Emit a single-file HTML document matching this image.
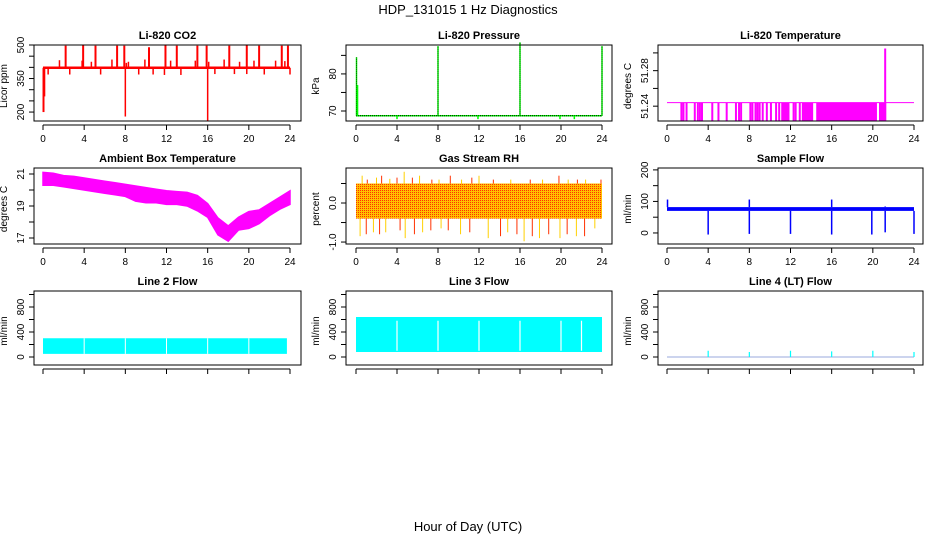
<!DOCTYPE html>
<html><head><meta charset="utf-8"><style>
html,body{margin:0;padding:0;background:#fff;}
svg{display:block;font-family:"Liberation Sans",sans-serif;}
</style></head><body>
<svg id="chart" width="936" height="540" viewBox="0 0 936 540" xmlns="http://www.w3.org/2000/svg">
<defs>
<pattern id="rhpat" width="2" height="2" patternUnits="userSpaceOnUse">
<rect width="2" height="2" fill="#ffc000"/><rect width="1" height="1" fill="#ff3000"/>
</pattern>
</defs>
<text x="468" y="14" text-anchor="middle" font-size="13">HDP_131015  1 Hz Diagnostics</text>
<text x="468" y="531" text-anchor="middle" font-size="13">Hour of Day (UTC)</text>
</svg>
<script>
// ---- data ----
var xTicks = [0,4,8,12,16,20,24];
// CO2
var co2Base = 398;
var co2UpHours = [2.2,3.9,5.1,7.2,7.9,10.3,11.9,13.0,15.0,15.9,18.1,19.8,21.0,23.2,23.8];
var co2UpVals  = [497,499,497,497,497,490,499,497,497,497,497,499,497,497,497];
var co2SmallHours = [1.6,3.8,4.7,6.7,8.1,8.3,9.9,12.4,14.8,16.1,17.6,19.1,20.5,22.6,23.5];
var co2SmallVals  = [432,430,425,435,420,425,435,430,430,425,435,425,430,430,428];
var co2DipHours = [0.5,2.6,5.6,9.3,10.7,11.8,13.4,16.7,18.6,19.8,21.5,24.0];
var co2DipVals  = [368,368,368,368,368,366,366,370,370,370,368,368];
var co2DownHours = [0.05,0.15,8.0,16.0];
var co2DownVals  = [200,270,180,160];
// Pressure
var presBase = 68.7;
var presSpikeHours = [0.05,8.0,16.0,24.0];
var presSpikeVals  = [84.5,87.5,88.5,87.5];
var presSmallHours = [4.0,11.9,19.9,21.3,0.15];
var presSmallVals  = [67.8,67.8,67.8,67.8,77];
// Li-820 temperature
var tempBase = 51.244;
var tempDipHours = [1.4,1.6,1.9,2.7,3.0,3.2,3.4,4.4,5.0,5.8,6.7,7.0,7.2,8.1,8.3,8.6,8.8,9.0,9.3,9.7,10.1,10.6,10.9,12.3,12.5,12.9];
var tempDenseStart = [11.1,13.1,14.5,20.6];
var tempDenseEnd   = [11.9,14.2,20.4,21.3];
var tempSpikeHour = 21.2;
var tempSpikeVal = 51.305;
var tempFloor = 51.2233;
// Ambient
var ambHours = [0,1,2,3,4,5,6,7,8,9,10,11,12,13,14,15,16,17,18,19,20,21,22,23,24];
var ambHi = [21.1,21.05,20.9,20.85,20.75,20.65,20.55,20.45,20.35,20.25,20.15,20.05,19.95,19.9,19.85,19.65,19.15,18.25,17.75,18.3,18.65,18.75,19.15,19.55,19.95];
var ambLo = [20.3,20.3,20.2,20.1,20.0,19.9,19.8,19.7,19.6,19.3,19.2,19.2,19.1,19.1,19.0,18.7,18.3,17.2,16.8,17.5,17.6,17.9,18.4,18.8,19.1];
// RH
var rhLo = -0.4, rhHi = 0.5;
var rhUpHours = [0.6,1.1,2.0,2.5,3.3,4.0,4.7,5.5,6.2,7.4,8.1,9.2,10.3,11.3,12.0,13.4,15.1,17.0,18.2,19.8,20.7,21.6,22.4,23.9];
var rhUpVals  = [0.7,0.6,0.65,0.7,0.62,0.65,0.8,0.65,0.7,0.6,0.6,0.7,0.6,0.65,0.7,0.6,0.6,0.6,0.6,0.7,0.6,0.6,0.6,0.6];
var rhDnHours = [0.4,1.0,1.7,2.3,2.9,4.3,4.8,5.7,6.5,7.3,8.3,9.0,10.2,11.1,12.9,14.1,14.8,15.7,16.4,17.2,17.9,18.8,19.9,20.6,21.5,22.3,23.3];
var rhDnVals  = [-0.85,-0.8,-0.75,-0.8,-0.75,-0.7,-0.9,-0.8,-0.75,-0.7,-0.65,-0.7,-0.8,-0.75,-0.9,-0.85,-0.75,-0.8,-0.98,-0.85,-0.9,-0.8,-0.9,-0.8,-0.85,-0.85,-0.65];
// Sample flow
var sfLo = 70, sfHi = 82;
var sfDownHours = [4.0,8.0,12.0,16.0,19.9,21.2,24.0];
var sfDownVals  = [-5,-3,-3,-5,-5,2,-3];
var sfUpHours = [0.05,8.0,16.0,21.2];
var sfUpVals  = [106,106,106,84];
// Line flows
var l2Lo = 50, l2Hi = 300;
var l2Gaps = [4,8,12,16,20];
var l3Lo = 80, l3Hi = 640;
var l3Gaps = [4,8,12,16,20,22];
var l4SpikeHours = [4.0,8.0,12.0,16.0,20.0,24.0];
var l4SpikeVals  = [100,80,100,90,100,80];

// ---- layout ----
var svg = document.getElementById('chart');
var NS = 'http://www.w3.org/2000/svg';
var cols = [{l:34,r:301,x0:43,x24:290},{l:346,r:612,x0:356,x24:602},{l:658,r:923,x0:667,x24:914}];
var rows = [{t:45,b:121},{t:168,b:244},{t:291,b:365}];
function mk(tag, attrs, nm, parent){
  var e = document.createElementNS(NS, tag);
  for (var k in attrs) e.setAttribute(k, attrs[k]);
  
  
  (parent||svg).appendChild(e);
  return e;
}
function panel(ci, ri, title, ylab, ymin, ymax, ticks, labels, showX){
  var c = cols[ci], r = rows[ri];
  var p = {c:c, r:r};
  p.x = function(h){ return c.x0 + (c.x24-c.x0)*h/24; };
  p.y = function(v){ return r.b - (v-ymin)/(ymax-ymin)*(r.b-r.t); };
  p.g = mk('g', {}, title.toLowerCase().replace(/[^a-z0-9]+/g,'-')+'-panel');
  p.plot = mk('g', {}, 'plot-area', p.g);
  mk('rect', {x:c.l, y:r.t, width:c.r-c.l, height:r.b-r.t, fill:'none', stroke:'#000', 'stroke-width':1}, 'plot-frame', p.g);
  mk('text', {x:(c.l+c.r)/2, y:r.t-6, 'text-anchor':'middle', 'font-size':11, 'font-weight':'bold'}, 'panel-title', p.g).textContent = title;
  var ya = p.y(ticks[0]), yb = p.y(ticks[ticks.length-1]);
  mk('line', {x1:c.l, x2:c.l, y1:ya, y2:yb, stroke:'#000'}, 'y-axis-line', p.g);
  ticks.forEach(function(t){
    var yy = p.y(t);
    mk('line', {x1:c.l-5, x2:c.l, y1:yy, y2:yy, stroke:'#000'}, 'y-tick', p.g);
  });
  labels.forEach(function(lb){
    var yy = p.y(parseFloat(lb));
    mk('text', {x:c.l-10, y:yy, 'text-anchor':'middle', 'font-size':10, transform:'rotate(-90 '+(c.l-10)+' '+yy+')'}, 'y-tick-label', p.g).textContent = lb;
  });
  var ym = (r.t+r.b)/2;
  mk('text', {x:c.l-27, y:ym+3, 'text-anchor':'middle', 'font-size':10, transform:'rotate(-90 '+(c.l-27)+' '+(ym+3)+')'}, 'y-axis-title', p.g).textContent = ylab;
  mk('line', {x1:p.x(0), x2:p.x(24), y1:r.b+4, y2:r.b+4, stroke:'#000'}, 'x-axis-line', p.g);
  xTicks.forEach(function(h){
    mk('line', {x1:p.x(h), x2:p.x(h), y1:r.b+4, y2:r.b+9, stroke:'#000'}, 'x-tick', p.g);
    if (showX) mk('text', {x:p.x(h), y:r.b+21, 'text-anchor':'middle', 'font-size':10}, 'x-tick-label', p.g).textContent = h;
  });
  return p;
}
function vline(p, h, v1, v2, col, w, nm){
  return mk('line', {x1:p.x(h), x2:p.x(h), y1:p.y(v1), y2:p.y(v2), stroke:col, 'stroke-width':w}, nm, p.plot);
}
function hline(p, h1, h2, v, col, w, nm){
  return mk('line', {x1:p.x(h1), x2:p.x(h2), y1:p.y(v), y2:p.y(v), stroke:col, 'stroke-width':w}, nm, p.plot);
}
function band(p, h1, h2, lo, hi, fill, nm){
  return mk('rect', {x:p.x(h1), y:p.y(hi), width:p.x(h2)-p.x(h1), height:p.y(lo)-p.y(hi), fill:fill}, nm, p.plot);
}

// CO2
var p1 = panel(0,0,'Li-820 CO2','Licor ppm',160,500,[200,250,300,350,400,450,500],['200','350','500'],true);
hline(p1,0,24,co2Base,'#ff0000',2.5,'co2-line');
co2UpHours.forEach(function(h,i){ vline(p1,h,co2Base,co2UpVals[i],'#ff0000',2,'co2-spike-up'); });
co2SmallHours.forEach(function(h,i){ vline(p1,h,co2Base,co2SmallVals[i],'#ff0000',1.5,'co2-small-spike'); });
co2DipHours.forEach(function(h,i){ vline(p1,h,co2Base,co2DipVals[i],'#ff0000',1.5,'co2-dip'); });
co2DownHours.forEach(function(h,i){ vline(p1,h,co2Base,co2DownVals[i],'#ff0000',i==0?2:1.5,'co2-spike-down'); });

// Pressure
var p2 = panel(1,0,'Li-820 Pressure','kPa',67.3,87.8,[70,75,80,85],['70','80'],true);
hline(p2,0,24,presBase,'#00ff00',1.5,'pressure-line');
hline(p2,0,24,presBase,'#000',1,'pressure-dotted').setAttribute('stroke-dasharray','1 1');
presSpikeHours.forEach(function(h,i){ vline(p2,h,presBase,presSpikeVals[i],'#00ff00',1.5,'pressure-spike'); });
presSpikeHours.forEach(function(h,i){ vline(p2,h,presBase,presSpikeVals[i],'#000',0.7,'pressure-spike-dots').setAttribute('stroke-dasharray','1 1'); });
presSmallHours.forEach(function(h,i){ vline(p2,h,presBase,presSmallVals[i],'#00ff00',1.5,'pressure-small'); });

// Li-820 temperature
var p3 = panel(2,0,'Li-820 Temperature','degrees C',tempFloor,51.3089,[51.24,51.26,51.28,51.30],['51.24','51.28'],true);
hline(p3,0,24,tempBase,'#ff00ff',1,'temp-line');
tempDipHours.forEach(function(h){ vline(p3,h,tempBase,tempFloor,'#ff00ff',2,'temp-dip'); });
tempDenseStart.forEach(function(h,i){ band(p3,h,tempDenseEnd[i],tempFloor,tempBase,'#ff00ff','temp-dense'); });
vline(p3,tempSpikeHour,tempFloor,tempSpikeVal,'#ff00ff',2,'temp-spike');

// Ambient
var p4 = panel(0,1,'Ambient Box Temperature','degrees C',16.625,21.375,[17,18,19,20,21],['17','19','21'],true);
var pts = ambHours.map(function(h,i){ return p4.x(h)+','+p4.y(ambHi[i]); });
for (var i=ambHours.length-1;i>=0;i--) pts.push(p4.x(ambHours[i])+','+p4.y(ambLo[i]));
mk('polygon',{points:pts.join(' '),fill:'#ff00ff',stroke:'#ff00ff','stroke-width':1.5},'ambient-band',p4.plot);

// RH
var p5 = panel(1,1,'Gas Stream RH','percent',-1.05,0.897,[-1,-0.5,0,0.5],['-1.0','0.0'],true);
rhUpHours.forEach(function(h,i){ vline(p5,h,rhHi,rhUpVals[i],i%2?'#ff3000':'#ffd000',1,'rh-spike-up'); });
rhDnHours.forEach(function(h,i){ vline(p5,h,rhLo,rhDnVals[i],i%2?'#ff3000':'#ffd000',1,'rh-spike-down'); });
band(p5,0,24,rhLo,rhHi,'url(#rhpat)','rh-band');

// Sample flow
var p6 = panel(2,1,'Sample Flow','ml/min',-35,206,[0,50,100,150,200],['0','100','200'],true);
band(p6,0,24,sfLo,sfHi,'#0000ff','sample-flow-band');
sfDownHours.forEach(function(h,i){ vline(p6,h,sfLo,sfDownVals[i],'#0000ff',1.5,'sample-flow-dip'); });
sfUpHours.forEach(function(h,i){ vline(p6,h,sfHi,sfUpVals[i],'#0000ff',1.5,'sample-flow-spike'); });

// Line 2
var p7 = panel(0,2,'Line 2 Flow','ml/min',-128,1056,[0,200,400,600,800,1000],['0','400','800'],false);
band(p7,0,23.7,l2Lo,l2Hi,'#00ffff','line2-band');
l2Gaps.forEach(function(h){ vline(p7,h,l2Lo,l2Hi,'#fff',1,'line2-gap'); });
// Line 3
var p8 = panel(1,2,'Line 3 Flow','ml/min',-128,1056,[0,200,400,600,800,1000],['0','400','800'],false);
band(p8,0,24,l3Lo,l3Hi,'#00ffff','line3-band');
l3Gaps.forEach(function(h){ vline(p8,h,l3Lo+20,l3Hi-60,'#fff',1.2,'line3-gap'); });
// Line 4
var p9 = panel(2,2,'Line 4 (LT) Flow','ml/min',-128,1056,[0,200,400,600,800,1000],['0','400','800'],false);
hline(p9,0,24,0,'#9ad','1','line4-base');
l4SpikeHours.forEach(function(h,i){ vline(p9,h,0,l4SpikeVals[i],'#00ffff',1.2,'line4-spike'); });
</script>
</body></html>
